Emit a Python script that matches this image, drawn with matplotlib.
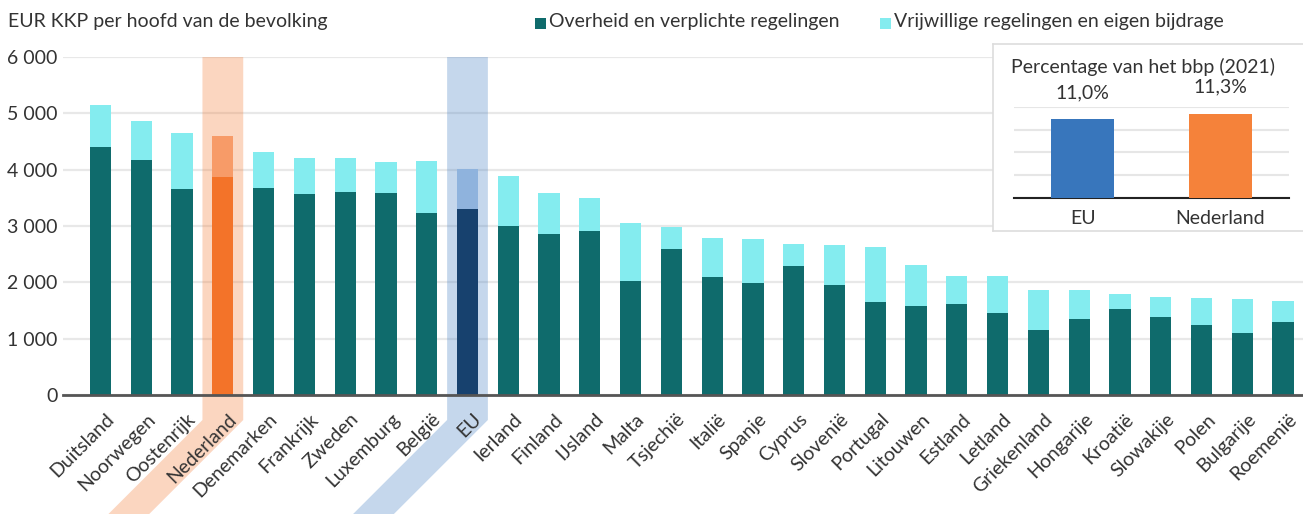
import numpy as np
import matplotlib.pyplot as plt
from matplotlib.patches import Polygon, Rectangle
from matplotlib.transforms import IdentityTransform

plt.rcParams['font.family'] = ['Lato', 'DejaVu Sans']
plt.rcParams['text.color'] = '#333333'

# data (EUR KKP per inwoner)
landen = ['Duitsland', 'Noorwegen', 'Oostenrijk', 'Nederland', 'Denemarken', 'Frankrijk',
          'Zweden', 'Luxemburg', 'België', 'EU', 'Ierland', 'Finland', 'IJsland', 'Malta',
          'Tsjechië', 'Italië', 'Spanje', 'Cyprus', 'Slovenië', 'Portugal', 'Litouwen',
          'Estland', 'Letland', 'Griekenland', 'Hongarije', 'Kroatië', 'Slowakije', 'Polen',
          'Bulgarije', 'Roemenië']
overheid = [4400, 4170, 3650, 3870, 3680, 3560, 3600, 3590, 3230, 3310, 3000, 2850, 2920,
            2030, 2590, 2100, 1980, 2290, 1960, 1650, 1580, 1610, 1460, 1160, 1350, 1520,
            1380, 1250, 1100, 1300]
vrijwillig = [750, 700, 1000, 730, 640, 640, 600, 540, 930, 700, 890, 740, 580, 1020, 400,
              690, 790, 390, 700, 980, 730, 510, 650, 700, 510, 270, 360, 480, 600, 360]
y_ticks = [0, 1000, 2000, 3000, 4000, 5000, 6000]

# inset: percentage van het bbp
bbp_labels = ['EU', 'Nederland']
bbp_waarden = [11.0, 11.3]

W, H = 1303, 514
FS = 14
fig = plt.figure(figsize=(W / 100, H / 100), dpi=100)

ax = fig.add_axes([63 / W, 1 - 395 / H, (W - 63) / W, (395 - 57) / H])
x = np.arange(len(landen))

c_gov = ['#0f6b6c'] * len(landen)
c_vol = ['#84ecef'] * len(landen)
i_nl = landen.index('Nederland')
i_eu = landen.index('EU')
c_gov[i_nl], c_vol[i_nl] = '#f37329', '#f79b68'
c_gov[i_eu], c_vol[i_eu] = '#17416e', '#8fb3dd'

ax.bar(x, overheid, width=0.52, color=c_gov, zorder=3)
ax.bar(x, vrijwillig, bottom=overheid, width=0.52, color=c_vol, zorder=3)

ax.set_xlim(-0.92, len(landen) - 0.51)
ax.set_ylim(0, 6000)
ax.set_yticks(y_ticks)
ax.set_yticklabels([f"{v:,}".replace(',', ' ') for v in y_ticks], fontsize=FS, color='#333333')
ax.yaxis.grid(True, color='#e8e8e8', lw=1.6, zorder=0)
ax.set_axisbelow(True)
ax.xaxis.set_zorder(5)
for s in ['top', 'right', 'left']:
    ax.spines[s].set_visible(False)
ax.spines['bottom'].set_color('#555555')
ax.spines['bottom'].set_linewidth(2)
ax.spines['bottom'].set_zorder(4)
ax.tick_params(axis='both', length=0)
ax.tick_params(axis='y', pad=4)
ax.set_xticks(x + 0.12)
ax.set_xticklabels(landen, rotation=45, ha='right', va='top', rotation_mode='anchor',
                   fontsize=FS, color='#333333')
ax.tick_params(axis='x', pad=11)

# highlight bands (vertical, then slanted along the label)
for idx, col in [(i_nl, '#f37329'), (i_eu, '#3a78bf')]:
    x0 = ax.transData.transform((idx - 0.5, 6000))
    x1 = ax.transData.transform((idx + 0.5, 0))
    ytop = x0[1]
    yturn = x1[1] - 25
    pts = [(x0[0], ytop), (x1[0], ytop), (x1[0], yturn), (x1[0] - yturn, 0),
           (x0[0] - yturn, 0), (x0[0], yturn)]
    ax.add_patch(Polygon(pts, closed=True, transform=IdentityTransform(), facecolor=col,
                         alpha=0.29, edgecolor='none', clip_on=False, zorder=1))

# title and legend
fig.text(8 / W, 1 - 21 / H, 'EUR KKP per hoofd van de bevolking', fontsize=FS,
         va='center', ha='left')
fig.add_artist(Rectangle((535 / W, 1 - 29 / H), 11 / W, 11 / H, facecolor='#0f6b6c',
                         edgecolor='none', transform=fig.transFigure))
fig.text(549 / W, 1 - 21 / H, 'Overheid en verplichte regelingen', fontsize=FS,
         va='center', ha='left')
fig.add_artist(Rectangle((880 / W, 1 - 29 / H), 11 / W, 11 / H, facecolor='#84ecef',
                         edgecolor='none', transform=fig.transFigure))
fig.text(894 / W, 1 - 21 / H, 'Vrijwillige regelingen en eigen bijdrage', fontsize=FS,
         va='center', ha='left')

# inset box
box = fig.add_axes([993 / W, 1 - 231 / H, (W - 993 + 5) / W, (231 - 44) / H], zorder=5)
box.set_facecolor('white')
box.set_xticks([])
box.set_yticks([])
for s in box.spines.values():
    s.set_color('#dddddd')
    s.set_linewidth(1.2)

ins = fig.add_axes([1014 / W, 1 - 198 / H, (1289 - 1014) / W, (198 - 107) / H], zorder=6)
ins.set_facecolor('none')
ins.bar([0, 1], bbp_waarden, width=0.457, color=['#3876bc', '#f5823a'], zorder=3)
ins.set_xlim(-0.5, 1.5)
ins.set_ylim(6.53, 11.68)
ins.set_yticks(np.linspace(6.53, 11.68, 5))
ins.set_yticklabels([])
ins.yaxis.grid(True, color='#e6e6e6', lw=1.5, zorder=0)
ins.set_axisbelow(True)
for s in ['top', 'right', 'left']:
    ins.spines[s].set_visible(False)
ins.spines['bottom'].set_color('#222222')
ins.spines['bottom'].set_linewidth(1.5)
ins.tick_params(axis='both', length=0)
ins.set_xticks([0, 1])
ins.set_xticklabels(bbp_labels, fontsize=FS, color='#333333')
ins.tick_params(axis='x', pad=9)
for i, v in enumerate(bbp_waarden):
    ins.annotate(f"{v:.1f}%".replace('.', ','), (i, v), xytext=(0, 19),
                 textcoords='offset points', ha='center', va='center', fontsize=FS,
                 annotation_clip=False)
fig.text(1143 / W, 1 - 67 / H, 'Percentage van het bbp (2021)', fontsize=FS,
         ha='center', va='center', zorder=7)

fig.savefig('out.png', dpi=100)
